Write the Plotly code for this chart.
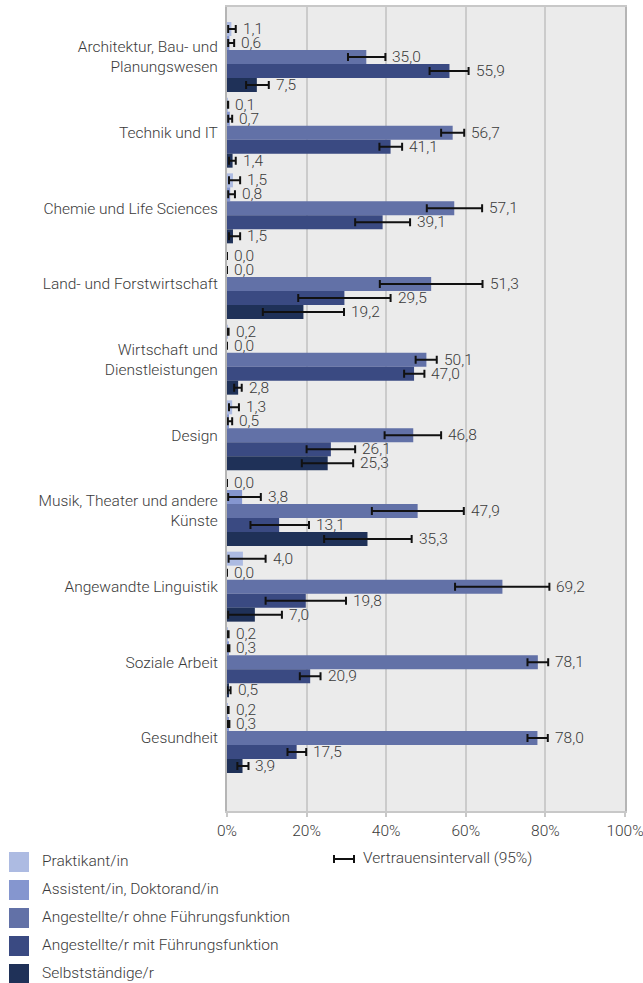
import plotly.graph_objects as go

categories = ["Architektur, Bau- und<br>Planungswesen", "Technik und IT", "Chemie und Life Sciences",
              "Land- und Forstwirtschaft", "Wirtschaft und<br>Dienstleistungen", "Design",
              "Musik, Theater und andere<br>Künste", "Angewandte Linguistik", "Soziale Arbeit", "Gesundheit"]

series_names = ["Praktikant/in", "Assistent/in, Doktorand/in", "Angestellte/r ohne Führungsfunktion",
                "Angestellte/r mit Führungsfunktion", "Selbstständige/r"]
series_colors = ["#adbbe2", "#8596cf", "#6271a7", "#3a4a82", "#1f3158"]

praktikant = [1.1, 0.1, 1.5, 0.0, 0.2, 1.3, 0.0, 4.0, 0.2, 0.2]
praktikant_lo = [0.3, 0.0, 0.5, None, 0.0, 0.5, None, 0.4, 0.0, 0.0]
praktikant_hi = [2.2, 0.3, 3.3, None, 0.4, 3.0, None, 9.7, 0.4, 0.4]

assistent = [0.6, 0.7, 0.8, 0.0, 0.0, 0.5, 3.8, 0.0, 0.3, 0.3]
assistent_lo = [0.3, 0.3, 0.3, None, None, 0.2, 0.3, None, 0.1, 0.1]
assistent_hi = [1.8, 1.3, 2.0, None, None, 1.3, 8.5, None, 0.6, 0.6]

ohne = [35.0, 56.7, 57.1, 51.3, 50.1, 46.8, 47.9, 69.2, 78.1, 78.0]
ohne_lo = [30.4, 53.8, 50.2, 38.4, 47.4, 39.6, 36.4, 57.3, 75.5, 75.5]
ohne_hi = [39.8, 59.6, 64.1, 64.2, 52.7, 53.8, 59.5, 81.0, 80.7, 80.6]

mit = [55.9, 41.1, 39.1, 29.5, 47.0, 26.1, 13.1, 19.8, 20.9, 17.5]
mit_lo = [50.9, 38.3, 32.2, 17.9, 44.5, 20.0, 5.9, 9.7, 18.3, 15.2]
mit_hi = [60.7, 44.0, 46.0, 41.1, 49.6, 32.2, 20.6, 29.9, 23.5, 19.9]

selbst = [7.5, 1.4, 1.5, 19.2, 2.8, 25.3, 35.3, 7.0, 0.5, 3.9]
selbst_lo = [4.8, 0.5, 0.5, 9.0, 1.8, 18.8, 24.4, 0.3, 0.1, 2.6]
selbst_hi = [10.5, 2.2, 3.3, 29.4, 3.7, 31.7, 46.4, 13.8, 0.9, 5.4]

x_ticks = [0, 20, 40, 60, 80, 100]
x_ticklabels = ["0%", "20%", "40%", "60%", "80%", "100%"]

values = [praktikant, assistent, ohne, mit, selbst]
lows = [praktikant_lo, assistent_lo, ohne_lo, mit_lo, selbst_lo]
highs = [praktikant_hi, assistent_hi, ohne_hi, mit_hi, selbst_hi]

FONT = "Roboto"
FS = 15.5
TXT = "#3a3a3a"
BAR_H = 0.185

# layout geometry (pixels)
W, H = 643, 983
ML, MR, MT, MB = 227, 18, 7, 172
PW, PH = W - ML - MR, H - MT - MB

fnt = dict(family=FONT, size=FS, color=TXT, weight=300)

fig = go.Figure()
for j, (name, col, v, lo, hi) in enumerate(zip(series_names, series_colors, values, lows, highs)):
    ypos = [i + (j - 2) * BAR_H for i in range(len(categories))]
    plus = [None if h is None else h - val for h, val in zip(hi, v)]
    minus = [None if l is None else val - l for l, val in zip(lo, v)]
    fig.add_trace(go.Bar(
        x=v, y=ypos, orientation="h", width=BAR_H, name=name,
        marker=dict(color=col, line=dict(width=0)),
        error_x=dict(type="data", symmetric=False, array=plus, arrayminus=minus,
                     color="#111111", thickness=2, width=4),
        showlegend=False, hoverinfo="skip",
    ))
    for val, h, yy in zip(v, hi, ypos):
        tx = val if h is None else max(h, val)
        fig.add_annotation(x=tx, y=yy, xref="x", yref="y", xanchor="left", yanchor="middle",
                           xshift=5, showarrow=False,
                           text=f"{val:.1f}".replace(".", ","), font=fnt)

fig.update_layout(
    width=W, height=H,
    margin=dict(l=ML, r=MR, t=MT, b=MB, autoexpand=False),
    paper_bgcolor="white", plot_bgcolor="#ebebeb",
    font=fnt,
    barmode="overlay",
    showlegend=False,
)
fig.update_xaxes(
    range=[0, 100], tickvals=x_ticks, ticktext=x_ticklabels,
    showgrid=True, gridcolor="#cbcbcb", gridwidth=2,
    showline=True, linecolor="#c8c8c8", linewidth=2, mirror=True,
    ticks="outside", ticklen=4, tickwidth=2, tickcolor="#c8c8c8",
    tickfont=fnt, zeroline=False, fixedrange=True, ticklabeloverflow="allow",
)
fig.update_yaxes(
    range=[9.965, -0.661], tickvals=list(range(len(categories))), ticktext=categories,
    showgrid=False, showline=True, linecolor="#b5b5b5", linewidth=2, mirror=True,
    ticks="", ticklabelstandoff=4,
    tickfont=fnt, zeroline=False, fixedrange=True,
)

def px_x(p):
    return (p - ML) / PW

def px_y(p):
    return (MT + PH - p) / PH

# legend (drawn as layout decorations)
leg_y = [862, 890, 918, 946, 974]
for name, col, cy in zip(series_names, series_colors, leg_y):
    fig.add_shape(type="rect", xref="paper", yref="paper",
                  x0=px_x(9), x1=px_x(29), y0=px_y(cy + 10), y1=px_y(cy - 10),
                  fillcolor=col, line=dict(width=0))
    fig.add_annotation(xref="paper", yref="paper", x=px_x(40), y=px_y(cy - 1),
                       xanchor="left", yanchor="middle", showarrow=False, text=name, font=fnt)

ci_y = 859
fig.add_shape(type="line", xref="paper", yref="paper", x0=px_x(333), x1=px_x(355),
              y0=px_y(ci_y), y1=px_y(ci_y), line=dict(color="#111111", width=2))
for xx in (334, 354):
    fig.add_shape(type="line", xref="paper", yref="paper", x0=px_x(xx), x1=px_x(xx),
                  y0=px_y(ci_y - 4), y1=px_y(ci_y + 4), line=dict(color="#111111", width=2))
fig.add_annotation(xref="paper", yref="paper", x=px_x(361), y=px_y(ci_y - 1),
                   xanchor="left", yanchor="middle", showarrow=False,
                   text="Vertrauensintervall (95%)", font=fnt)

fig.write_html("out.html", config={"displayModeBar": False},
               post_script="document.body.style.margin='0';document.body.style.overflow='hidden';")
